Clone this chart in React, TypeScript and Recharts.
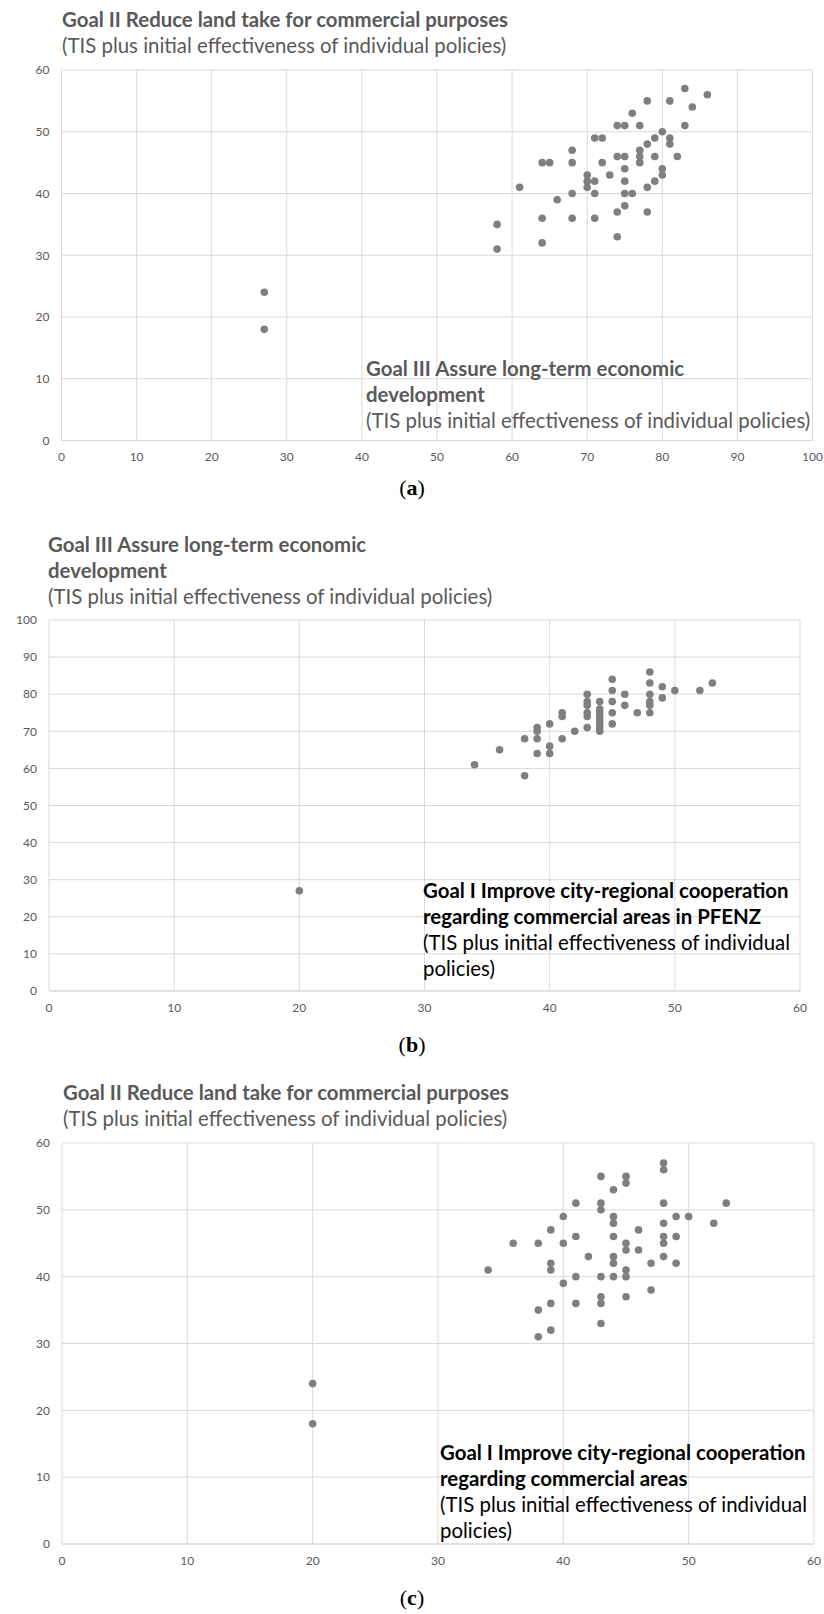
import React from "react";
import {
  ScatterChart,
  Scatter,
  XAxis,
  YAxis,
  CartesianGrid,
} from "recharts";

// --- DATA (x, y) ---
// (a) Goal III (x) vs Goal II (y)
const panelA: [number, number][] = [
  [27, 24], [27, 18],
  [58, 35], [58, 31], [61, 41], [64, 45], [64, 36], [64, 32], [65, 45], [66, 39],
  [68, 47], [68, 45], [68, 40], [68, 36], [70, 43], [70, 42], [70, 41], [71, 49],
  [71, 42], [71, 40], [71, 36], [72, 49], [72, 45], [73, 43], [74, 51], [74, 46],
  [74, 37], [74, 33], [75, 51], [75, 46], [75, 44], [75, 42], [75, 40], [75, 38],
  [76, 53], [76, 40], [77, 51], [77, 47], [77, 46], [77, 45], [78, 55], [78, 48],
  [78, 41], [78, 37], [79, 49], [79, 46], [79, 42], [80, 50], [80, 44], [80, 43],
  [81, 55], [81, 49], [81, 48], [82, 46], [83, 57], [83, 51], [84, 54], [86, 56],
];

// (b) Goal I (x) vs Goal III (y)
const panelB: [number, number][] = [
  [20, 27],
  [34, 61], [36, 65], [38, 68], [38, 58], [39, 71], [39, 70], [39, 68], [39, 64],
  [40, 72], [40, 66], [40, 64], [41, 75], [41, 74], [41, 68], [42, 70], [43, 80],
  [43, 78], [43, 77], [43, 75], [43, 74], [43, 71], [44, 78], [44, 76], [44, 75],
  [44, 74], [44, 73], [44, 72], [44, 71], [44, 70], [45, 84], [45, 81], [45, 78],
  [45, 75], [45, 72], [46, 80], [46, 77], [47, 75], [48, 86], [48, 83], [48, 80],
  [48, 78], [48, 77], [48, 75], [49, 82], [49, 79], [50, 81], [52, 81], [53, 83],
];

// (c) Goal I (x) vs Goal II (y)
const panelC: [number, number][] = [
  [20, 24], [20, 18],
  [34, 41], [36, 45], [38, 45], [38, 35], [38, 31], [39, 47], [39, 42], [39, 41],
  [39, 36], [39, 32], [40, 49], [40, 45], [40, 39], [41, 51], [41, 46], [41, 40],
  [41, 36], [42, 43], [43, 55], [43, 51], [43, 50], [43, 40], [43, 37], [43, 36],
  [43, 33], [44, 53], [44, 49], [44, 48], [44, 46], [44, 43], [44, 42], [44, 40],
  [45, 55], [45, 54], [45, 45], [45, 44], [45, 41], [45, 40], [45, 37], [46, 47],
  [46, 44], [47, 42], [47, 38], [48, 57], [48, 56], [48, 51], [48, 48], [48, 46],
  [48, 45], [48, 43], [49, 49], [49, 46], [49, 42], [50, 49], [52, 48], [53, 51],
];

const ticks0to100 = [0, 10, 20, 30, 40, 50, 60, 70, 80, 90, 100];
const ticks0to60 = [0, 10, 20, 30, 40, 50, 60];

const W = 824;
const GREY = "#595959";
const FONT = "Lato, 'Open Sans', sans-serif";

type Box = { left: number; right: number; top: number; bottom: number };

const tickStyle = { fontFamily: FONT, fontSize: 12, fill: GREY };

const Dot = (p: any) => <circle cx={p.cx} cy={p.cy} r={3.8} fill="#7f7f7f" />;

const Panel: React.FC<{
  box: Box;
  xMax: number;
  xTicks: number[];
  yMax: number;
  yTicks: number[];
  points: [number, number][];
}> = ({ box, xMax, xTicks, yMax, yTicks, points }) => {
  const top = box.top - 10;
  const height = box.bottom - top + 40;
  const data = points.map(([x, y]) => ({ x, y }));
  return (
    <div style={{ position: "absolute", left: 0, top, width: W, height }}>
      <ScatterChart
        width={W}
        height={height}
        margin={{ top: 10, right: W - box.right, bottom: 0, left: 0 }}
      >
        <CartesianGrid stroke="#d9d9d9" strokeWidth={1} />
        <XAxis
          type="number"
          dataKey="x"
          domain={[0, xMax]}
          ticks={xTicks}
          interval={0}
          height={40}
          axisLine={{ stroke: "#d9d9d9" }}
          tickLine={false}
          tickMargin={6}
          tick={tickStyle}
        />
        <YAxis
          type="number"
          dataKey="y"
          domain={[0, yMax]}
          ticks={yTicks}
          interval={0}
          width={box.left}
          axisLine={false}
          tickLine={false}
          tickMargin={6}
          tick={tickStyle}
        />
        <Scatter data={data} shape={Dot} isAnimationActive={false} />
      </ScatterChart>
    </div>
  );
};

// absolutely placed text line, y = centre of line
const Line: React.FC<{
  x: number;
  y: number;
  size: number;
  bold?: boolean;
  color?: string;
  children: React.ReactNode;
}> = ({ x, y, size, bold, color = GREY, children }) => (
  <div
    style={{
      position: "absolute",
      left: x,
      top: y - size * 0.7,
      lineHeight: `${size * 1.4}px`,
      fontFamily: FONT,
      fontSize: size,
      fontWeight: bold ? 700 : 400,
      color,
      whiteSpace: "nowrap",
    }}
  >
    {children}
  </div>
);

const Caption: React.FC<{ y: number; letter: string }> = ({ y, letter }) => (
  <div
    style={{
      position: "absolute",
      left: 362,
      width: 100,
      top: y - 14,
      lineHeight: "28px",
      textAlign: "center",
      fontFamily: "'Liberation Serif', 'DejaVu Serif', serif",
      fontSize: 22,
      color: "#000",
    }}
  >
    (<b>{letter}</b>)
  </div>
);

const SUB = "(TIS plus initial effectiveness of individual policies)";
const T = 20.4; // axis-title size above each plot
const A = 20.4; // axis-title size inside each plot

const App: React.FC = () => {
  const boxA: Box = { left: 61.5, right: 812.5, top: 69.5, bottom: 440 };
  const boxB: Box = { left: 49, right: 800, top: 620, bottom: 991 };
  const boxC: Box = { left: 62, right: 814, top: 1143, bottom: 1544 };

  return (
    <div style={{ position: "relative", width: W, height: 1614, background: "#fff", overflow: "hidden" }}>
      <style>{"body{margin:0}"}</style>

      {/* (a) */}
      <Line x={62} y={19} size={T} bold>Goal II Reduce land take for commercial purposes</Line>
      <Line x={62} y={45} size={T}>{SUB}</Line>
      <Panel box={boxA} xMax={100} xTicks={ticks0to100} yMax={60} yTicks={ticks0to60} points={panelA} />
      <Line x={366} y={368} size={A} bold>Goal III Assure long-term economic</Line>
      <Line x={366} y={394} size={A} bold>development</Line>
      <Line x={366} y={420} size={A}>{SUB}</Line>
      <Caption y={488} letter="a" />

      {/* (b) */}
      <Line x={48} y={544} size={T} bold>Goal III Assure long-term economic</Line>
      <Line x={48} y={570} size={T} bold>development</Line>
      <Line x={48} y={596} size={T}>{SUB}</Line>
      <Panel box={boxB} xMax={60} xTicks={ticks0to60} yMax={100} yTicks={ticks0to100} points={panelB} />
      <Line x={423} y={890} size={A} bold color="#000">Goal I Improve city-regional cooperation</Line>
      <Line x={423} y={916} size={A} bold color="#000">regarding commercial areas in PFENZ</Line>
      <Line x={423} y={942} size={A} color="#000">(TIS plus initial effectiveness of individual</Line>
      <Line x={423} y={968} size={A} color="#000">policies)</Line>
      <Caption y={1045} letter="b" />

      {/* (c) */}
      <Line x={63} y={1092} size={T} bold>Goal II Reduce land take for commercial purposes</Line>
      <Line x={63} y={1118} size={T}>{SUB}</Line>
      <Panel box={boxC} xMax={60} xTicks={ticks0to60} yMax={60} yTicks={ticks0to60} points={panelC} />
      <Line x={440} y={1452} size={A} bold color="#000">Goal I Improve city-regional cooperation</Line>
      <Line x={440} y={1478} size={A} bold color="#000">regarding commercial areas</Line>
      <Line x={440} y={1504} size={A} color="#000">(TIS plus initial effectiveness of individual</Line>
      <Line x={440} y={1530} size={A} color="#000">policies)</Line>
      <Caption y={1598} letter="c" />
    </div>
  );
};

export default App;
